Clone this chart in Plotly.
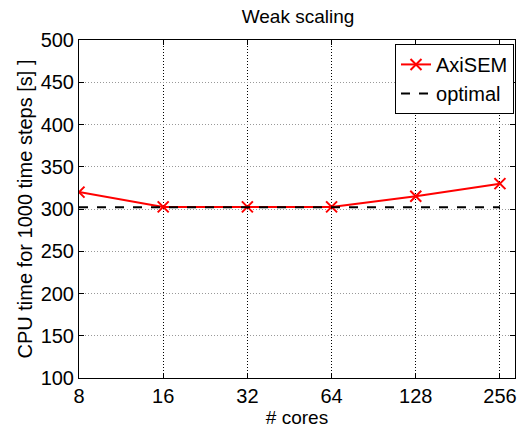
import plotly.graph_objects as go

cores = [8, 16, 32, 64, 128, 256]
axisem_time = [320, 302.5, 302.5, 302.5, 315, 330]
optimal_time = [302, 302, 302, 302, 302, 302]
x_ticks = [8, 16, 32, 64, 128, 256]
y_ticks = [100, 150, 200, 250, 300, 350, 400, 450, 500]

FONT = "Liberation Sans, Arial, Helvetica, sans-serif"

fig = go.Figure()
fig.add_trace(go.Scatter(
    x=cores, y=axisem_time, name="AxiSEM", mode="lines+markers",
    line=dict(color="red", width=2),
    marker=dict(symbol="x-thin", size=11, line=dict(color="red", width=2), color="red"),
))
fig.add_trace(go.Scatter(
    x=cores, y=optimal_time, name="optimal", mode="lines",
    line=dict(color="black", width=2, dash="dash"),
))

L, R, T, B = 79, 9, 40, 45
W, H = 526, 429
pw = W - L - R
ph = H - T - B

fig.update_layout(
    width=W, height=H,
    margin=dict(l=L, r=R, t=T, b=B, pad=0),
    paper_bgcolor="white", plot_bgcolor="white",
    font=dict(family=FONT, size=20, color="black"),
    title=dict(text="Weak scaling", x=(L + pw / 2) / W, xanchor="center",
               y=1 - 16 / H, yanchor="middle", font=dict(size=19)),
    showlegend=True,
    legend=dict(x=(516 - L) / pw, xanchor="right", y=1 - 4 / ph, yanchor="top",
                bordercolor="black", borderwidth=1, bgcolor="white",
                font=dict(size=20), tracegroupgap=0, itemwidth=30),
)
fig.update_xaxes(
    type="log", range=[0.90309, 2.462],
    tickvals=x_ticks, ticktext=[str(v) for v in x_ticks],
    ticks="inside", ticklen=5, tickcolor="black",
    showline=True, linecolor="black", linewidth=1, mirror="ticks",
    showgrid=True, gridcolor="black", griddash="1px,2px", gridwidth=1,
    zeroline=False,
    title=dict(text="# cores", standoff=0, font=dict(size=19)),
    tickfont=dict(size=20),
)
fig.update_yaxes(
    range=[100, 500], tickvals=y_ticks,
    ticks="inside", ticklen=5, tickcolor="black",
    showline=True, linecolor="black", linewidth=1, mirror="ticks",
    showgrid=True, gridcolor="#999999", griddash="1px,2px", gridwidth=1,
    zeroline=False,
    title=dict(text="CPU time for 1000 time steps [s] ]", standoff=2, font=dict(size=20)),
    tickfont=dict(size=20),
)

fig.write_html("out.html")
